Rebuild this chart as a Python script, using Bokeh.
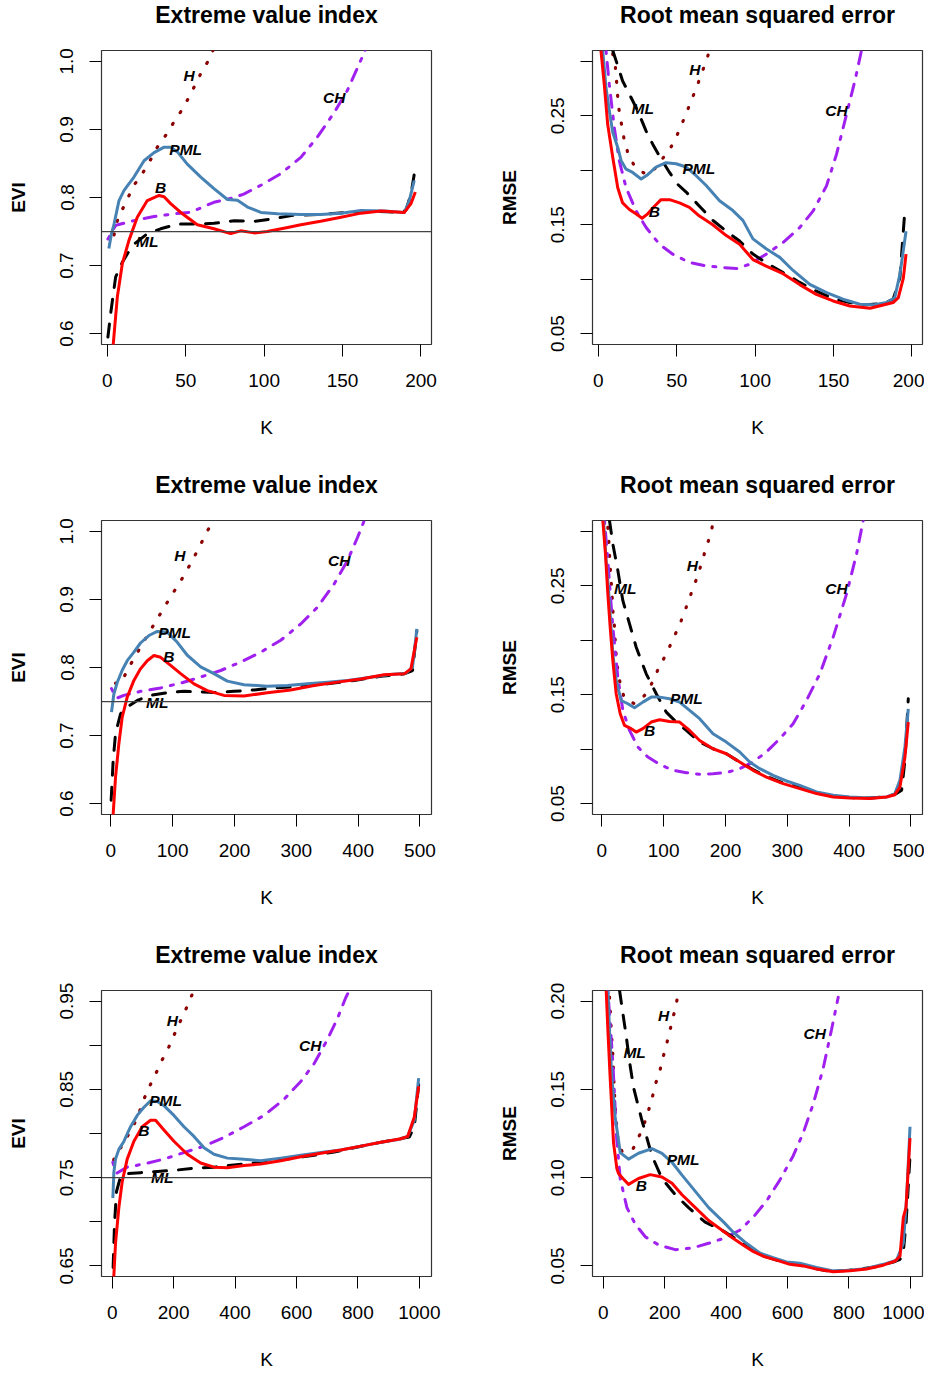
from bokeh.plotting import figure
from bokeh.layouts import column, row
from bokeh.models import Span, FixedTicker, Range1d
from bokeh.core.properties import value
from bokeh.embed import file_html
from bokeh.resources import INLINE

FONT = "Liberation Sans"
LAB_TEXT = ["H", "CH", "PML", "B", "ML"]

# ---------------- Panel 1 : EVI, n = 200 ----------------
evi1_k_pml = [1, 2.5, 4.3, 7.4, 10.6, 12.8, 17, 23.4, 29.8, 36.2, 40.4, 44.7, 51, 59.6, 68, 76.6, 83, 89.4, 97.9, 108.5, 123.4, 136, 149, 161.7, 176.6, 189.4, 192.6, 195.7]
evi1_pml = [0.725, 0.745, 0.761, 0.795, 0.810, 0.817, 0.830, 0.854, 0.866, 0.874, 0.874, 0.867, 0.849, 0.830, 0.813, 0.797, 0.796, 0.786, 0.778, 0.776, 0.775, 0.775, 0.777, 0.781, 0.780, 0.778, 0.796, 0.825]
evi1_k_b = [3.5, 3.8, 6.4, 9.6, 13.8, 19.1, 25.5, 33, 36.2, 40.4, 47.9, 57.4, 68, 78.7, 85, 93.6, 102, 115, 123.4, 136, 149, 161.7, 174.5, 189.4, 193.6, 196.4]
evi1_b = [0.55, 0.585, 0.654, 0.703, 0.737, 0.771, 0.7955, 0.803, 0.801, 0.791, 0.776, 0.760, 0.754, 0.747, 0.751, 0.748, 0.750, 0.756, 0.760, 0.765, 0.771, 0.777, 0.780, 0.778, 0.791, 0.808]
evi1_k_ml = [0.4, 2.1, 5.3, 9.6, 16, 25.5, 34, 44.7, 55.3, 68, 80.9, 93.6, 106.4, 119, 136, 153, 170, 187, 190.4, 193.6, 195.7]
evi1_ml = [0.595, 0.629, 0.683, 0.705, 0.7295, 0.7467, 0.754, 0.761, 0.761, 0.762, 0.766, 0.765, 0.769, 0.774, 0.775, 0.778, 0.780, 0.778, 0.781, 0.805, 0.834]
evi1_k_h = [4.3, 6.4, 8.9, 12.8, 17, 22.3, 27, 31.9, 36.6, 41.7, 46.8, 51.5, 55.7, 60, 64.7, 70]
evi1_h = [0.745, 0.766, 0.779, 0.798, 0.818, 0.835, 0.853, 0.874, 0.889, 0.908, 0.926, 0.945, 0.964, 0.984, 1.002, 1.03]
evi1_k_ch = [0.4, 5.3, 8.5, 17, 29.8, 42.6, 53.2, 68, 80.9, 87, 97.9, 110.6, 123.4, 134, 144.7, 153, 159.6, 163.8, 167]
evi1_ch = [0.739, 0.759, 0.761, 0.766, 0.772, 0.776, 0.7784, 0.793, 0.800, 0.805, 0.818, 0.835, 0.859, 0.889, 0.925, 0.957, 0.991, 1.013, 1.03]
evi1_lab_k = [52.1, 144.7, 50, 34, 25.5]
evi1_lab_y = [0.979, 0.947, 0.870, 0.815, 0.736]

# ---------------- Panel 2 : RMSE, n = 200 ----------------
rmse1_k_b = [1.7, 3.8, 6, 9.2, 12.4, 15.5, 19.8, 24, 27.9, 31.5, 35.8, 40, 45.4, 51.8, 58.1, 64.5, 73, 81.6, 90.1, 98.6, 107, 117.8, 128.4, 139, 149.7, 160.4, 173.2, 181.7, 188, 191.3, 194.5, 196.2]
rmse1_b = [0.31, 0.279, 0.242, 0.212, 0.184, 0.170, 0.164, 0.160, 0.156, 0.160, 0.167, 0.173, 0.173, 0.170, 0.166, 0.158, 0.150, 0.140, 0.132, 0.118, 0.112, 0.105, 0.095, 0.086, 0.080, 0.0754, 0.0733, 0.0763, 0.0785, 0.083, 0.101, 0.123]
rmse1_k_pml = [2.8, 4.9, 7, 9.2, 12.4, 14.5, 17.7, 21.9, 27.3, 31.5, 36.8, 43.2, 49.6, 56, 62.4, 68.8, 77.3, 85.8, 92.2, 98.6, 107, 115.7, 124.2, 134.8, 145.5, 156, 166.8, 175.3, 183.8, 189, 192.3, 196.2]
rmse1_pml = [0.31, 0.276, 0.255, 0.235, 0.221, 0.209, 0.201, 0.198, 0.192, 0.196, 0.203, 0.207, 0.206, 0.203, 0.195, 0.186, 0.172, 0.163, 0.154, 0.137, 0.128, 0.120, 0.108, 0.0953, 0.0877, 0.0816, 0.077, 0.0764, 0.0785, 0.083, 0.1045, 0.144]
rmse1_k_ml = [9.2, 12.4, 15.5, 19.8, 25.1, 30.5, 34.7, 39, 45.4, 50.7, 56, 64.5, 73, 81.6, 90.1, 98.6, 107, 117.8, 128.4, 139, 149.7, 160.4, 171, 181.7, 188, 192.3, 195.5]
rmse1_ml = [0.31, 0.296, 0.282, 0.270, 0.2547, 0.236, 0.224, 0.213, 0.198, 0.187, 0.180, 0.167, 0.154, 0.144, 0.135, 0.123, 0.115, 0.106, 0.097, 0.089, 0.082, 0.0785, 0.0764, 0.0776, 0.0815, 0.1015, 0.164]
rmse1_k_ch = [4.9, 7, 10.2, 13.4, 17.7, 24, 30.5, 39, 47.5, 58.1, 68.8, 79.4, 88, 96.5, 107, 117.8, 128.4, 137, 145.5, 151.9, 158.3, 163.6, 167.8]
rmse1_ch = [0.31, 0.279, 0.239, 0.2087, 0.184, 0.163, 0.1474, 0.132, 0.1229, 0.1153, 0.1122, 0.1107, 0.1097, 0.1137, 0.1229, 0.1336, 0.1474, 0.1627, 0.1857, 0.2148, 0.2516, 0.2822, 0.31]
rmse1_k_h = [9.2, 10.9, 11.7, 12.4, 13.4, 15.1, 16.6, 19.2, 23.6, 30.9, 36.5, 42.6, 47.9, 51.8, 55.4, 58.8, 62.4, 65.6, 68.8, 71]
rmse1_h = [0.307, 0.2945, 0.2807, 0.2669, 0.2531, 0.240, 0.2271, 0.2142, 0.2026, 0.1958, 0.202, 0.2139, 0.2246, 0.2375, 0.2498, 0.2623, 0.2752, 0.2877, 0.3006, 0.31]
rmse1_lab_k = [61.6, 151.9, 64.1, 35.8, 28.3]
rmse1_lab_y = [0.2923, 0.2553, 0.2017, 0.1618, 0.257]

# ---------------- Panel 3 : EVI, n = 500 ----------------
evi2_k_pml = [1.1, 4.9, 10.3, 18.4, 26.5, 37.3, 48, 61.6, 75, 91.3, 107.5, 123.7, 145.3, 166.8, 188.4, 215.4, 253, 285.6, 318, 350.4, 382.8, 415, 447.6, 477.3, 488, 495]
evi2_pml = [0.7345, 0.761, 0.778, 0.796, 0.810, 0.8225, 0.836, 0.847, 0.853, 0.852, 0.837, 0.818, 0.801, 0.791, 0.780, 0.7746, 0.7726, 0.7736, 0.776, 0.7785, 0.781, 0.785, 0.7892, 0.7917, 0.8005, 0.8567]
evi2_k_b = [3, 3.8, 7.6, 13, 18.4, 26.5, 37.3, 48, 58.9, 69.7, 80.5, 96.7, 112.9, 134.5, 156, 183, 215.4, 253, 291, 328.8, 366.6, 404.4, 442.2, 474.6, 485.4, 495]
evi2_b = [0.55, 0.585, 0.639, 0.688, 0.727, 0.7565, 0.781, 0.798, 0.810, 0.8176, 0.815, 0.803, 0.791, 0.776, 0.766, 0.759, 0.758, 0.763, 0.767, 0.7736, 0.7785, 0.783, 0.7892, 0.7907, 0.798, 0.8445]
evi2_k_ml = [0.5, 3.8, 7.6, 15.7, 26.5, 42.7, 64.3, 91.3, 118.3, 145.3, 172.3, 199.2, 231.6, 264, 307, 350.4, 393.6, 436.8, 474.6, 488, 495]
evi2_ml = [0.605, 0.664, 0.703, 0.732, 0.742, 0.7516, 0.759, 0.763, 0.765, 0.764, 0.763, 0.765, 0.767, 0.770, 0.772, 0.776, 0.781, 0.787, 0.7907, 0.7956, 0.854]
evi2_k_h = [7.6, 16.8, 26.5, 37.3, 48, 60.5, 72.4, 84.8, 96.7, 110, 122, 133.4, 144.2, 155, 165.8, 175]
evi2_h = [0.777, 0.777, 0.796, 0.813, 0.830, 0.849, 0.8675, 0.886, 0.904, 0.9227, 0.941, 0.960, 0.979, 0.9985, 1.0166, 1.03]
evi2_k_ch = [1.1, 5, 10, 21, 48, 80.5, 112.9, 145.3, 177.7, 210, 242.4, 274.8, 307.2, 334.2, 361.2, 382.8, 399, 409.8, 415]
evi2_ch = [0.769, 0.762, 0.755, 0.759, 0.765, 0.770, 0.777, 0.786, 0.7956, 0.808, 0.8225, 0.840, 0.864, 0.8885, 0.9227, 0.957, 0.991, 1.0156, 1.03]
evi2_lab_k = [111.8, 369.3, 103, 94, 75]
evi2_lab_y = [0.9643, 0.957, 0.852, 0.8166, 0.749]

# ---------------- Panel 4 : RMSE, n = 500 ----------------
rmse2_k_b = [1.6, 5.9, 9.7, 13.5, 17.8, 23.2, 29.7, 36.7, 47.5, 55.6, 66.4, 79.9, 93.4, 109.6, 125.8, 142, 158.2, 179.8, 201.4, 223, 244.6, 266.2, 293.2, 320.2, 347.2, 374.2, 401.2, 433.6, 460.6, 474, 482.2, 490.3, 495.7]
rmse2_b = [0.31, 0.279, 0.2425, 0.212, 0.1814, 0.1509, 0.1325, 0.1218, 0.1188, 0.1157, 0.1188, 0.1249, 0.127, 0.1255, 0.1249, 0.1172, 0.108, 0.1004, 0.0958, 0.0882, 0.0806, 0.0744, 0.0683, 0.0638, 0.0592, 0.0561, 0.0552, 0.0546, 0.0561, 0.0582, 0.0653, 0.0928, 0.1249]
rmse2_k_pml = [2.7, 7, 11.3, 17.8, 23.2, 31.3, 42.1, 52.9, 66.4, 79.9, 93.4, 109.6, 125.8, 142, 158.2, 179.8, 201.4, 223, 239.2, 255.4, 277, 298.6, 320.2, 347.2, 374.2, 401.2, 433.6, 460.6, 474, 482.2, 490.3, 495.7]
rmse2_pml = [0.31, 0.273, 0.2425, 0.1875, 0.163, 0.1447, 0.1417, 0.138, 0.1432, 0.1478, 0.1478, 0.1463, 0.1432, 0.1356, 0.128, 0.1142, 0.1065, 0.0974, 0.0882, 0.0821, 0.076, 0.0708, 0.0668, 0.0607, 0.0576, 0.0561, 0.0552, 0.0561, 0.0592, 0.0714, 0.102, 0.137]
rmse2_k_ml = [12.4, 17.8, 25.9, 34, 44.8, 55.6, 71.8, 88, 104.2, 120.4, 136.6, 158.2, 179.8, 201.4, 223, 244.6, 266.2, 293.2, 320.2, 347.2, 374.2, 401.2, 433.6, 460.6, 476.7, 484.9, 490.3, 495.7]
rmse2_ml = [0.31, 0.2884, 0.264, 0.2364, 0.215, 0.1936, 0.1692, 0.1509, 0.134, 0.1249, 0.1172, 0.1065, 0.1004, 0.0958, 0.0882, 0.0812, 0.075, 0.0689, 0.0653, 0.0598, 0.0567, 0.0555, 0.0552, 0.0561, 0.0592, 0.0622, 0.0897, 0.1463]
rmse2_k_ch = [4.3, 9.7, 17.8, 25.9, 34, 44.8, 58.3, 74.5, 93.4, 115, 136.6, 158.2, 179.8, 201.4, 223, 244.6, 266.2, 287.8, 309.4, 331, 352.6, 374.2, 395.8, 412, 422.8]
rmse2_ch = [0.31, 0.273, 0.212, 0.166, 0.1356, 0.1172, 0.102, 0.0928, 0.0861, 0.0806, 0.0784, 0.0769, 0.0775, 0.0784, 0.0821, 0.0882, 0.0974, 0.1096, 0.1233, 0.1447, 0.1692, 0.2028, 0.2425, 0.2792, 0.31]
rmse2_k_h = [9.7, 11.3, 12.4, 13.5, 15.1, 16.7, 17.8, 20.5, 21.6, 23.2, 25.9, 29.7, 36.7, 52.9, 69.1, 81, 90.7, 102, 112.3, 122, 131.2, 139.3, 147.4, 155.5, 162.5, 169, 177.1, 180]
rmse2_h = [0.3037, 0.2914, 0.2792, 0.267, 0.2548, 0.2395, 0.2273, 0.212, 0.1998, 0.186, 0.1722, 0.16, 0.1463, 0.1417, 0.1493, 0.1606, 0.1729, 0.1851, 0.1973, 0.2095, 0.2218, 0.2349, 0.2474, 0.26, 0.2731, 0.2859, 0.299, 0.31]
rmse2_lab_k = [146.3, 379.6, 136.6, 77.2, 37.8]
rmse2_lab_y = [0.2685, 0.2471, 0.1469, 0.1172, 0.2477]

# ---------------- Panel 5 : EVI, n = 1000 ----------------
evi3_k_pml = [2.2, 5.4, 10.9, 21.7, 38, 59.8, 81.5, 103.3, 125, 146.7, 168.5, 201, 233.7, 266.3, 298.9, 331.5, 375, 418.5, 483.7, 548.9, 614, 679.3, 744.6, 809.8, 875, 940.2, 962, 983.7, 997.8]
evi3_pml = [0.727, 0.756, 0.771, 0.782, 0.791, 0.8077, 0.8205, 0.8297, 0.837, 0.8363, 0.8315, 0.8205, 0.8077, 0.7967, 0.7839, 0.7765, 0.7721, 0.771, 0.7692, 0.7721, 0.7754, 0.7784, 0.7813, 0.7857, 0.790, 0.7938, 0.7967, 0.815, 0.8627]
evi3_k_b = [4, 5.4, 10.9, 21.7, 32.6, 48.9, 70.7, 97.8, 125, 141.3, 168.5, 201, 244.6, 288, 331.5, 375, 429.3, 483.7, 548.9, 614, 679.3, 744.6, 809.8, 875, 940.2, 962, 983.7, 997.8]
evi3_b = [0.62, 0.639, 0.6757, 0.716, 0.7454, 0.771, 0.7912, 0.8077, 0.815, 0.815, 0.804, 0.7912, 0.7765, 0.7666, 0.7619, 0.7611, 0.7637, 0.7655, 0.7692, 0.7736, 0.7776, 0.7813, 0.7857, 0.790, 0.7941, 0.7967, 0.8187, 0.8535]
evi3_k_ml = [1, 2.2, 7.6, 14.1, 27.2, 48.9, 92.4, 146.7, 201, 266.3, 331.5, 396.7, 462, 527.2, 592.4, 657.6, 722.8, 788, 853.3, 918.5, 967.4, 983.7, 997.8]
evi3_ml = [0.62, 0.639, 0.6977, 0.7343, 0.751, 0.7545, 0.7556, 0.757, 0.7582, 0.7608, 0.7619, 0.7644, 0.7666, 0.7692, 0.7721, 0.7754, 0.7791, 0.7839, 0.7886, 0.793, 0.796, 0.8077, 0.8554]
evi3_k_h = [5, 10.9, 30, 50, 75, 90, 103.3, 122.8, 143.5, 163, 184.8, 203.3, 222.8, 242.4, 260.9, 275]
evi3_h = [0.77, 0.7765, 0.785, 0.797, 0.813, 0.826, 0.8389, 0.8543, 0.869, 0.8836, 0.8983, 0.913, 0.928, 0.9427, 0.958, 0.97]
evi3_k_ch = [2.2, 8, 15, 48.9, 103.3, 168.5, 233.7, 298.9, 364.1, 429.3, 494.6, 559.8, 614, 657.6, 701, 733.7, 760.9, 771.7, 780]
evi3_ch = [0.7674, 0.760, 0.755, 0.7619, 0.7655, 0.771, 0.7784, 0.7857, 0.7956, 0.8077, 0.8205, 0.8389, 0.859, 0.8792, 0.9067, 0.9306, 0.9544, 0.9617, 0.97]
evi3_lab_k = [195.7, 644.6, 174, 103.3, 163]
evi3_lab_y = [0.928, 0.9001, 0.8378, 0.8029, 0.75]

# ---------------- Panel 6 : RMSE, n = 1000 ----------------
rmse3_k_b = [9.8, 15.2, 22.8, 33.7, 44.6, 50, 64.1, 82.6, 115, 153, 191.4, 224, 256.6, 300, 343.4, 387, 422.8, 455.4, 488, 520.7, 564.1, 607.6, 651, 694.6, 748.9, 803.3, 857.6, 912, 950, 966.3, 977.2, 985.9, 998.9]
rmse3_b = [0.206, 0.1839, 0.1564, 0.1197, 0.105, 0.1023, 0.0995, 0.0962, 0.0995, 0.1017, 0.1004, 0.0968, 0.0903, 0.083, 0.0757, 0.0702, 0.0656, 0.0619, 0.0582, 0.0555, 0.0533, 0.0509, 0.05, 0.0482, 0.0467, 0.0472, 0.0482, 0.0504, 0.0527, 0.0555, 0.0775, 0.083, 0.1224]
rmse3_k_pml = [15.2, 22.8, 28.3, 39, 55.4, 82.6, 115, 158.7, 191.4, 224, 256.6, 300, 343.4, 392.3, 422.8, 466.3, 509.8, 553.3, 596.7, 640.2, 694.6, 748.9, 803.3, 857.6, 912, 955.4, 977.2, 988, 998.9]
rmse3_pml = [0.206, 0.1747, 0.1564, 0.1344, 0.1142, 0.1105, 0.1138, 0.1164, 0.1138, 0.1087, 0.1014, 0.0922, 0.083, 0.0748, 0.0692, 0.0628, 0.0573, 0.0546, 0.0522, 0.0515, 0.0491, 0.0472, 0.0476, 0.0485, 0.0509, 0.0533, 0.0628, 0.0885, 0.1288]
rmse3_k_ml = [53.3, 64.1, 75, 85.9, 99, 126, 158.7, 191.4, 234.8, 278, 332, 387, 455.4, 509.8, 564.1, 618.5, 672.8, 727.2, 781.5, 835.9, 890.2, 944.6, 966.3, 977.2, 985.9, 993.5, 998.9]
rmse3_ml = [0.206, 0.193, 0.1802, 0.1655, 0.1509, 0.1325, 0.1124, 0.0995, 0.0903, 0.083, 0.0748, 0.0702, 0.0628, 0.0564, 0.0533, 0.0515, 0.0491, 0.0472, 0.0472, 0.0482, 0.0496, 0.0522, 0.0537, 0.0582, 0.0738, 0.0958, 0.1123]
rmse3_k_ch = [15.2, 31.5, 44, 55.4, 77.2, 104, 137, 180, 234.8, 289, 343, 392, 444.6, 488, 531.5, 575, 618.5, 651, 683.7, 716.3, 743.5, 765.2]
rmse3_ch = [0.206, 0.1650, 0.122, 0.0995, 0.083, 0.0738, 0.0665, 0.0619, 0.0592, 0.0601, 0.0628, 0.0656, 0.0702, 0.0775, 0.0867, 0.0986, 0.1123, 0.1252, 0.1417, 0.1619, 0.1839, 0.2022]
rmse3_k_h = [20.7, 26.1, 31.5, 34.8, 39.1, 47.8, 61, 93.5, 113, 131.5, 145.7, 158.7, 169.5, 183.7, 194.6, 206.5, 217.4, 228.3, 239.1, 245]
rmse3_h = [0.2022, 0.1839, 0.1692, 0.1545, 0.1398, 0.1215, 0.115, 0.115, 0.1219, 0.1293, 0.1371, 0.1444, 0.1527, 0.16, 0.1679, 0.1756, 0.1835, 0.1912, 0.1994, 0.206]
rmse3_lab_k = [196.7, 689, 259.8, 123.9, 102.2]
rmse3_lab_y = [0.1916, 0.1817, 0.11, 0.0955, 0.171]

# axis ticks
x_ticks_200 = [0, 50, 100, 150, 200]
x_ticks_500 = [0, 100, 200, 300, 400, 500]
x_ticks_1000 = [0, 200, 400, 600, 800, 1000]
evi_ticks_a = [0.6, 0.7, 0.8, 0.9, 1.0]
evi_labels_a = ["0.6", "0.7", "0.8", "0.9", "1.0"]
evi_ticks_b = [0.65, 0.7, 0.75, 0.8, 0.85, 0.9, 0.95]
evi_labels_b = ["0.65", "", "0.75", "", "0.85", "", "0.95"]
rmse_ticks_a = [0.05, 0.1, 0.15, 0.2, 0.25, 0.3]
rmse_labels_a = ["0.05", "", "0.15", "", "0.25", ""]
rmse_ticks_b = [0.05, 0.1, 0.15, 0.2]
rmse_labels_b = ["0.05", "0.10", "0.15", "0.20"]
true_evi = 0.75

TOP = 74  # title band above each frame


def make_panel(title, ylab, xr, yr, xticks, yticks, ylabels, series, lab_k, lab_y,
               width, height, mb_left, mb_right, mb_bottom, hline=None):
    p = figure(width=width, height=height, x_range=Range1d(*xr), y_range=Range1d(*yr),
               output_backend="svg", toolbar_location=None,
               min_border_left=mb_left, min_border_right=mb_right,
               min_border_top=TOP, min_border_bottom=mb_bottom)
    p.background_fill_color = "white"
    p.border_fill_color = "white"
    p.outline_line_color = "#333333"
    p.outline_line_width = 1.2
    p.grid.visible = False

    p.title.text = title
    p.title.align = "center"
    p.title.vertical_align = "bottom"
    p.title.text_font = FONT
    p.title.text_font_size = "23px"
    p.title.text_font_style = "bold"
    p.title.text_color = "black"
    p.title.standoff = 46
    p.title.offset = 0

    for ax in (p.xaxis[0], p.yaxis[0]):
        ax.axis_line_color = None
        ax.major_tick_out = 12
        ax.major_tick_in = 0
        ax.major_tick_line_color = "black"
        ax.major_tick_line_width = 1
        ax.minor_tick_line_color = None
        ax.major_label_text_font = FONT
        ax.major_label_text_font_size = "19px"
        ax.major_label_text_color = "black"
        ax.axis_label_text_font = FONT
        ax.axis_label_text_font_size = "19px"
        ax.axis_label_text_color = "black"

    p.xaxis.ticker = FixedTicker(ticks=xticks)
    p.xaxis.major_label_overrides = {t: str(t) for t in xticks}
    p.xaxis.major_label_standoff = 17
    p.xaxis.axis_label = "K"
    p.xaxis.axis_label_text_font_style = "normal"
    p.xaxis.axis_label_standoff = 27

    p.yaxis.ticker = FixedTicker(ticks=yticks)
    p.yaxis.major_label_overrides = dict(zip(yticks, ylabels))
    p.yaxis.major_label_orientation = "vertical"
    p.yaxis.major_label_standoff = 16
    p.yaxis.axis_label = ylab
    p.yaxis.axis_label_text_font_style = "bold"
    p.yaxis.axis_label_standoff = 29

    if hline is not None:
        p.add_layout(Span(location=hline, dimension="width", line_color="#444444", line_width=1.2))

    (kh, h), (kch, ch), (kml, ml), (kpml, pml), (kb, b) = series
    p.line(kh, h, line_color="#8B0000", line_width=3.2, line_dash="1 13", line_cap="round")
    p.line(kch, ch, line_color="#A020F0", line_width=3, line_dash="3 9 12 9", line_cap="round")
    p.line(kml, ml, line_color="black", line_width=3, line_dash="13 12", line_cap="round")
    p.line(kpml, pml, line_color="#4682B4", line_width=3, line_join="round")
    p.line(kb, b, line_color="red", line_width=3, line_join="round")

    p.text(x=lab_k, y=lab_y, text=LAB_TEXT, text_font=value(FONT), text_font_style="bold italic",
           text_font_size="15.5px", text_align="center", text_baseline="middle", text_color="black")
    return p


LW, RW = 466, 458
H12, H3 = 470, 456
B12, B3 = 102, 88
p1 = make_panel("Extreme value index", "EVI", (-3.7, 206.7), (0.584, 1.016), x_ticks_200,
                evi_ticks_a, evi_labels_a,
                [(evi1_k_h, evi1_h), (evi1_k_ch, evi1_ch), (evi1_k_ml, evi1_ml), (evi1_k_pml, evi1_pml), (evi1_k_b, evi1_b)],
                evi1_lab_k, evi1_lab_y, LW, H12, 101, 35, B12, hline=true_evi)
p2 = make_panel("Root mean squared error", "RMSE", (-3.7, 206.7), (0.04, 0.31), x_ticks_200,
                rmse_ticks_a, rmse_labels_a,
                [(rmse1_k_h, rmse1_h), (rmse1_k_ch, rmse1_ch), (rmse1_k_ml, rmse1_ml), (rmse1_k_pml, rmse1_pml), (rmse1_k_b, rmse1_b)],
                rmse1_lab_k, rmse1_lab_y, RW, H12, 126, 2, B12)
p3 = make_panel("Extreme value index", "EVI", (-15.1, 518.7), (0.584, 1.016), x_ticks_500,
                evi_ticks_a, evi_labels_a,
                [(evi2_k_h, evi2_h), (evi2_k_ch, evi2_ch), (evi2_k_ml, evi2_ml), (evi2_k_pml, evi2_pml), (evi2_k_b, evi2_b)],
                evi2_lab_k, evi2_lab_y, LW, H12, 101, 35, B12, hline=true_evi)
p4 = make_panel("Root mean squared error", "RMSE", (-15.1, 518.7), (0.04, 0.31), x_ticks_500,
                rmse_ticks_a, rmse_labels_a,
                [(rmse2_k_h, rmse2_h), (rmse2_k_ch, rmse2_ch), (rmse2_k_ml, rmse2_ml), (rmse2_k_pml, rmse2_pml), (rmse2_k_b, rmse2_b)],
                rmse2_lab_k, rmse2_lab_y, RW, H12, 126, 2, B12)
p5 = make_panel("Extreme value index", "EVI", (-34.8, 1039.6), (0.638, 0.962), x_ticks_1000,
                evi_ticks_b, evi_labels_b,
                [(evi3_k_h, evi3_h), (evi3_k_ch, evi3_ch), (evi3_k_ml, evi3_ml), (evi3_k_pml, evi3_pml), (evi3_k_b, evi3_b)],
                evi3_lab_k, evi3_lab_y, LW, H3, 101, 35, B3, hline=true_evi)
p6 = make_panel("Root mean squared error", "RMSE", (-34.8, 1039.6), (0.044, 0.206), x_ticks_1000,
                rmse_ticks_b, rmse_labels_b,
                [(rmse3_k_h, rmse3_h), (rmse3_k_ch, rmse3_ch), (rmse3_k_ml, rmse3_ml), (rmse3_k_pml, rmse3_pml), (rmse3_k_b, rmse3_b)],
                rmse3_lab_k, rmse3_lab_y, RW, H3, 126, 2, B3)

layout = column(row(p1, p2), row(p3, p4), row(p5, p6), margin=(-24, 0, 0, 0))
open("out.html", "w").write(file_html(layout, INLINE))
